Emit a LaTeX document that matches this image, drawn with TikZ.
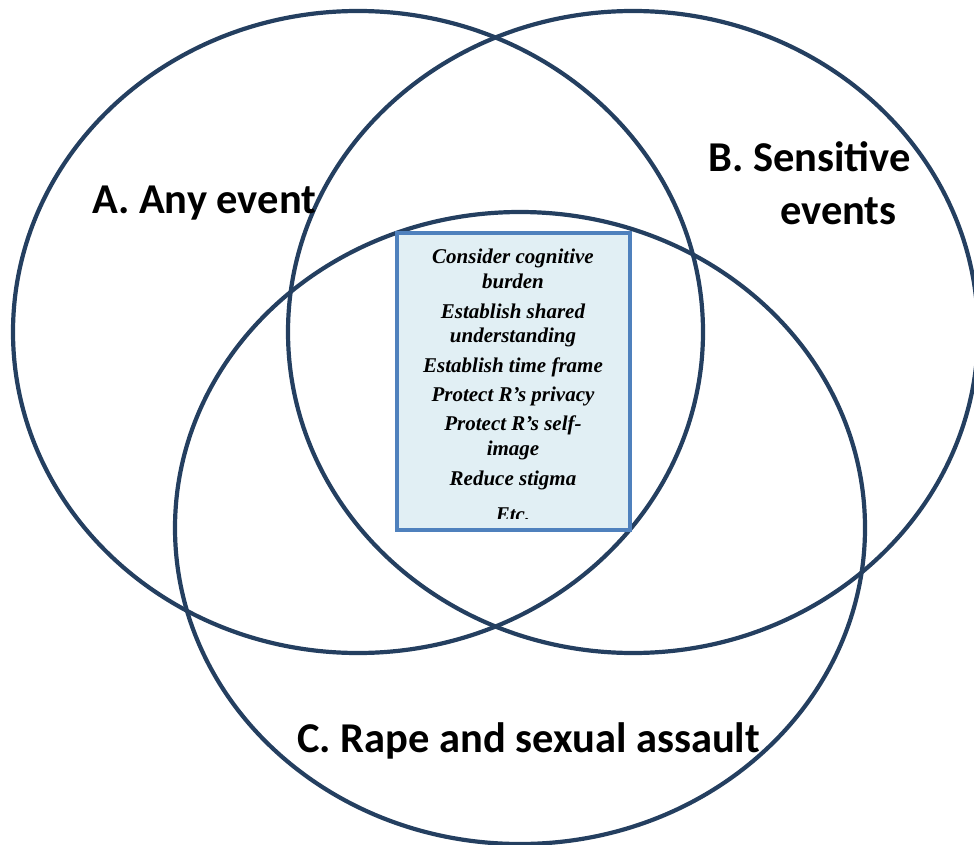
\documentclass[tikz,border=0pt]{standalone}
\usepackage{fontspec}
\setmainfont{Liberation Serif}
\newfontfamily\labfont{Carlito}
\definecolor{ring}{HTML}{243F60}
\definecolor{boxline}{HTML}{4F81BD}
\definecolor{boxfill}{HTML}{E1EFF4}
\begin{document}
\begin{tikzpicture}[x=1pt,y=-1pt,
  ringstyle/.style={draw=ring,line width=4.2pt},
  setlabel/.style={anchor=base west,inner sep=0pt,font=\labfont\bfseries\fontsize{42.5}{50}\selectfont},
  itemline/.style={anchor=base,inner sep=0pt,font=\bfseries\itshape\fontsize{21}{25}\selectfont}]
\useasboundingbox (0,0) rectangle (974,845);
\draw[ringstyle] (358,332) ellipse [x radius=345pt, y radius=321pt];
\draw[ringstyle] (633,332) ellipse [x radius=345pt, y radius=321pt];
\draw[ringstyle] (520,528) ellipse [x radius=345pt, y radius=316pt];
\node[draw=boxline,fill=boxfill,line width=4pt,minimum width=233pt,minimum height=297pt,inner sep=0pt] (box) at (513.5,381.5) {};
\begin{scope}
\clip (400,236) rectangle (627,518);
\node[itemline] (l1) at (513,263) {Consider cognitive};
\node[itemline] (l2) at (513,288) {burden};
\node[itemline] (l3) at (513,318) {Establish shared};
\node[itemline] (l4) at (513,342) {understanding};
\node[itemline] (l5) at (513,372) {Establish time frame};
\node[itemline] (l6) at (513,401) {Protect R’s privacy};
\node[itemline] (l7) at (513,430) {Protect R’s self-};
\node[itemline] (l8) at (513,455) {image};
\node[itemline] (l9) at (513,485) {Reduce stigma};
\node[itemline] (l10) at (513,521) {Etc.};
\end{scope}
\node[setlabel] (la) at (92,213) {A. Any event};
\node[setlabel] (lb1) at (708,172) {B. Sensitive};
\node[setlabel] (lb2) at (780,224) {events};
\node[setlabel] (lc) at (297,752) {C. Rape and sexual assault};
\end{tikzpicture}
\end{document}
